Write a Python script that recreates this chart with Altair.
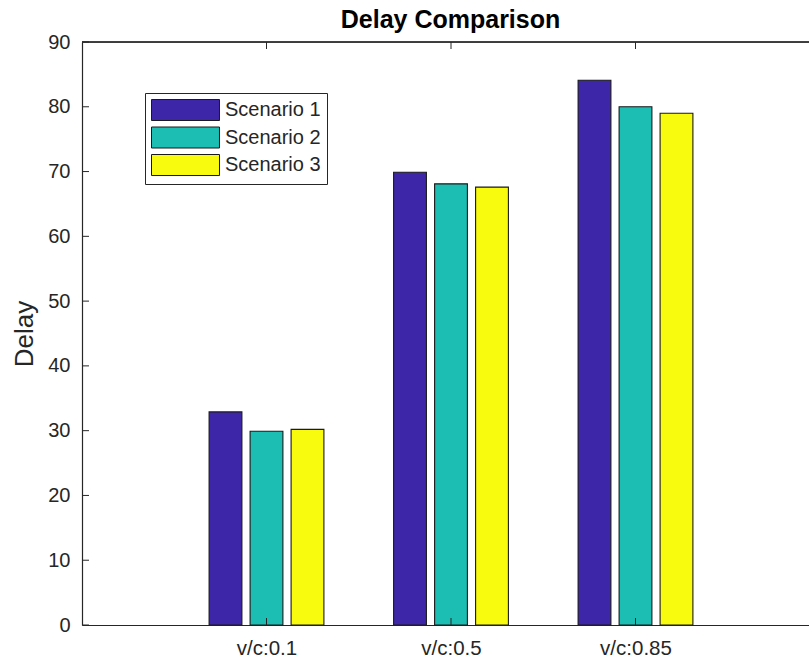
import json
import altair as alt
import pandas as pd

# ---- data ----
categories = ["v/c:0.1", "v/c:0.5", "v/c:0.85"]
series = ["Scenario 1", "Scenario 2", "Scenario 3"]
scenario1 = [32.9, 69.9, 84.1]
scenario2 = [29.9, 68.1, 80.0]
scenario3 = [30.2, 67.6, 79.0]
colors = ["#3E26A8", "#1CBDB3", "#F9FB0E"]
y_ticks = list(range(0, 91, 10))

# ---- layout ----
W, H = 727, 583
FONT = "Liberation Sans"
TXT = "#262626"
n = len(series)
group_width = 2 / 3          # MATLAB grouped-bar geometry
step = group_width / n
bar_w = step * 0.8

rows = []
for gi, cat in enumerate(categories):
    for si, (name, vals) in enumerate(zip(series, [scenario1, scenario2, scenario3])):
        xc = gi + 1 + (si - (n - 1) / 2) * step
        rows.append(dict(category=cat, series=name, value=vals[gi],
                         x0=xc - bar_w / 2, x1=xc + bar_w / 2))
df = pd.DataFrame(rows)
x_tick_df = pd.DataFrame({"v": [i + 1 for i in range(len(categories))]})
y_tick_df = pd.DataFrame({"v": y_ticks})

xscale = alt.Scale(domain=[0, W / 184.5], nice=False, zero=False)
yscale = alt.Scale(domain=[0, 90], nice=False)

label_expr = json.dumps(categories) + "[datum.value - 1]"
xaxis = alt.Axis(values=[1, 2, 3], labelExpr=label_expr, title=None, grid=False,
                 tickSize=0, labelPadding=13, labelFontSize=20.5, labelFont=FONT,
                 labelColor=TXT, domainColor=TXT, domainWidth=1.2)
yaxis = alt.Axis(values=y_ticks, title="Delay", grid=False, tickSize=0,
                 labelPadding=12, labelFontSize=20, labelFont=FONT, labelColor=TXT,
                 titleFontSize=26, titleFont=FONT, titleFontWeight="normal",
                 titleColor=TXT, titlePadding=10, domainColor=TXT, domainWidth=1.2)

legend = alt.Legend(
    title=None, orient="none", legendX=63, legendY=51, padding=6,
    strokeColor=TXT, fillColor="white", labelFontSize=20, labelFont=FONT,
    labelColor=TXT, labelLimit=400, labelOffset=52, rowPadding=1.5,
    symbolType="M-1,-1H5.476V1H-1Z", symbolSize=441,
    symbolStrokeColor="#1a1a1a", symbolStrokeWidth=1, symbolOpacity=1,
)

bars = alt.Chart(df).mark_bar(stroke="#1a1a1a", strokeWidth=1.1).encode(
    x=alt.X("x0:Q", scale=xscale, axis=xaxis),
    x2="x1:Q",
    y=alt.Y("value:Q", scale=yscale, axis=yaxis),
    y2=alt.datum(0),
    color=alt.Color("series:N", scale=alt.Scale(domain=series, range=colors),
                    legend=legend),
)

ytick_rules = alt.Chart(y_tick_df).mark_rule(color=TXT, strokeWidth=1).encode(
    y=alt.Y("v:Q", scale=yscale, axis=yaxis),
    x=alt.value(0), x2=alt.value(7),
)
xtick_bottom = alt.Chart(x_tick_df).mark_rule(color=TXT, strokeWidth=1).encode(
    x=alt.X("v:Q", scale=xscale, axis=xaxis),
    y=alt.value(H), y2=alt.value(H - 7),
)
xtick_top = alt.Chart(x_tick_df).mark_rule(color=TXT, strokeWidth=1).encode(
    x=alt.X("v:Q", scale=xscale, axis=xaxis),
    y=alt.value(0), y2=alt.value(7),
)
top_border = alt.Chart(x_tick_df).mark_rule(color=TXT, strokeWidth=1.2).encode(
    y=alt.value(0), x=alt.value(0), x2=alt.value(W),
)

chart = alt.layer(bars, ytick_rules, xtick_bottom, xtick_top, top_border).properties(
    width=W, height=H,
    title=alt.TitleParams("Delay Comparison", fontSize=25, fontWeight="bold",
                          font=FONT, color="#000000", offset=5, dx=5, dy=6),
    autosize=alt.AutoSizeParams(type="none"),
    padding={"left": 82, "top": 42, "right": 0, "bottom": 42},
).configure_view(stroke="transparent", strokeWidth=0).configure(background="white")

chart.save("out.html", embed_options={"renderer": "svg", "actions": False})
